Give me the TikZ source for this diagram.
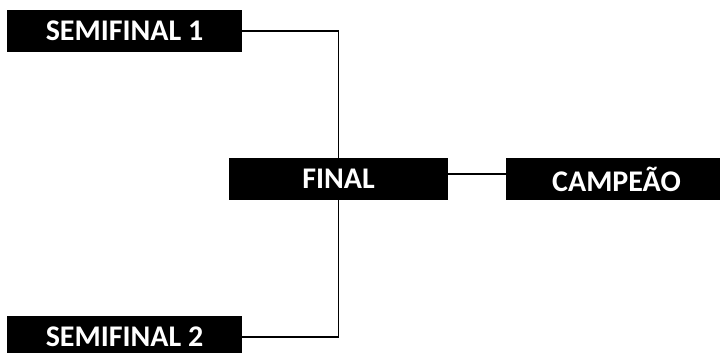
\documentclass[tikz,border=0pt]{standalone}
\usepackage{fontspec}
\setsansfont{Carlito}
\usepackage{tikz}
\usetikzlibrary{positioning,calc}
\tikzset{
  bracketBox/.style={
    fill=black,
    draw=none,
    text=white,
    align=center,
    inner sep=0pt,
    minimum height=42pt,
    minimum width=235pt
  },
  bracketLine/.style={draw=black, line width=1.3pt}
}

\begin{document}
\begin{tikzpicture}[
      font=\sffamily\bfseries\fontsize{30}{36}\selectfont,
      x=1pt, y=1pt
    ]
      \useasboundingbox (0,0) rectangle (720,-353);
      \node[bracketBox] (semi1) at (124.5,-31) {SEMIFINAL 1};
      \node[bracketBox] (semi2) at (124.5,-337) {SEMIFINAL 2};
      \node[bracketBox, minimum width=219pt] (final) at (338.5,-179) {FINAL};
      \node[bracketBox, minimum width=221pt] (champ) at (616.5,-179) {CAMPEÃO};

      \draw[bracketLine] (semi1.east) -| (final.north);
      \draw[bracketLine] (semi2.east) -| (final.south);
      \draw[bracketLine] ([yshift=5pt]final.east) -- ([yshift=5pt]champ.west);
    \end{tikzpicture}
\end{document}
